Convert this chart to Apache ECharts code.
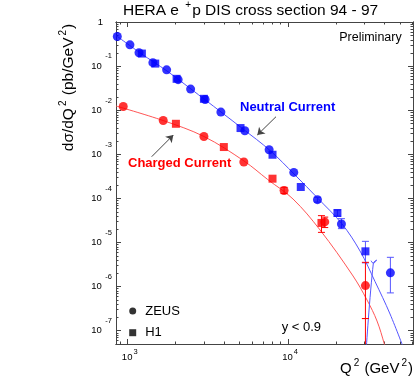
<!DOCTYPE html>
<html>
<head>
<meta charset="utf-8">
<script src="https://cdn.jsdelivr.net/npm/echarts@6/dist/echarts.min.js"></script>
<style>
  html, body { margin: 0; padding: 0; background: #fff; }
  #chart { width: 415px; height: 377px; }
</style>
</head>
<body>
<div id="chart"></div>
<script>
// Q2 in GeV^2, dsigma/dQ2 in pb/GeV^2
var ncZeusQ2 = [864, 1036, 1180, 1440, 1755, 2070, 2477, 3050, 3825, 5396, 7648, 10900, 15310, 21610, 43650]
var ncZeusXs = [0.477, 0.309, 0.205, 0.122, 0.0838, 0.050, 0.0306, 0.0178, 0.0092, 0.00347, 0.001285, 3.93e-4, 9.44e-5, 2.65e-5, 2.06e-6]
var ncH1Q2 = [1230, 1490, 2025, 2998, 5072, 8030, 12050, 20400, 30500]
var ncH1Xs = [0.196, 0.116, 0.0523, 0.0184, 0.00399, 0.000989, 1.83e-4, 4.71e-5, 6.35e-6]

var ccZeusQ2 = [941, 1671, 2998, 5319, 9480, 17000, 30500]
var ccZeusXs = [0.01233, 0.00593, 0.00257, 6.76e-4, 1.53e-4, 2.95e-5, 1.06e-6]
var ccH1Q2 = [2005, 3991, 8030, 16220]
var ccH1Xs = [0.00499, 0.00148, 2.83e-4, 2.8e-5]

// error bars (only the visible ones)
var ncErrQ2 = [15310, 20400, 21610, 30500, 43650]
var ncErrHi = [1.07e-4, 5.5e-5, 3.5e-5, 1.07e-5, 4.64e-6]
var ncErrLo = [8.3e-5, 4.0e-5, 2.08e-5, 3.47e-6, 7.23e-7]
var ccErrQ2 = [9480, 16220, 17000, 30500, 30500]
var ccErrHi = [1.8e-4, 4.1e-5, 3.8e-5, 3.57e-6, 1.89e-7]
var ccErrLo = [1.3e-4, 1.71e-5, 2.2e-5, 1e-9, 1.89e-7]

// theory curves
var ncCurveQ2 = [848, 1214, 1764, 2490, 3832, 5256, 7747, 11100, 15440, 21800, 28230, 35010, 43430, 53870]
var ncCurveXs = [0.5036, 0.1965, 0.0787, 0.0307, 0.00924, 0.0038, 0.001235, 3.43e-4, 1.004e-4, 2.65e-5, 6.45e-6, 1.31e-6, 2.40e-7, 3.3e-8]
var ccCurveQ2 = [848, 1666, 3002, 5333, 7492, 10780, 15890, 25530, 31210, 36030, 40010, 41020]
var ccCurveXs = [0.01264, 0.005923, 0.002566, 7.13e-4, 2.71e-4, 9.78e-5, 1.94e-5, 1.75e-6, 4.98e-7, 1.66e-7, 5.0e-8, 3.3e-8]

// the odd blue band at high Q2
var ncBandQ2 = [33060, 34170, 35860, 34170, 30760]
var ncBandXs = [3.89e-6, 3.39e-6, 4.03e-6, 3.39e-6, 3.3e-8]

// tick labels
var xMajor = [1e3, 1e4]
var yMajor = [1, 1e-1, 1e-2, 1e-3, 1e-4, 1e-5, 1e-6, 1e-7]
var xMin = 848, xMax = 60400, yMin = 5e-8, yMax = 1.02

var FONT = 'Liberation Sans, Arial, Helvetica, sans-serif'
var BLUE = '#0000ff', RED = '#ff0000'
var BLUE_LINE = '#5555ff', RED_LINE = '#ff5555'
var AXIS = '#444'

function zip(a, b) {
  return a.map(function (v, i) { return [v, b[i]] })
}

function minorTicks(lo, hi) {
  var out = []
  for (var e = Math.floor(Math.log10(lo)); e <= Math.ceil(Math.log10(hi)); e++) {
    for (var k = 2; k <= 9; k++) {
      var v = k * Math.pow(10, e)
      if (v > lo && v < hi) out.push(v)
    }
  }
  return out
}

function expLabel(v) {
  var e = Math.round(Math.log10(v))
  if (e === 0) return '{one|1}'
  return '{b|10}{s|' + e + '}'
}

function logAxis(pos, min, max, ticks, len, label) {
  return {
    type: 'log',
    logBase: 10,
    position: pos,
    min: min,
    max: max,
    axisLine: { show: true, onZero: false, lineStyle: { color: AXIS, width: 1 } },
    axisTick: { show: true, inside: true, length: len, customValues: ticks, lineStyle: { color: AXIS, width: 1 } },
    axisLabel: label || { show: false },
    splitLine: { show: false },
    minorTick: { show: false },
    minorSplitLine: { show: false }
  }
}

var xLabel = {
  show: true,
  customValues: xMajor,
  margin: 8,
  formatter: expLabel,
  rich: {
    b: { fontFamily: FONT, fontSize: 9.5, lineHeight: 10, color: '#000', padding: [7, 0, 7, 4.5] },
    s: { fontFamily: FONT, fontSize: 7.5, lineHeight: 8, color: '#000', padding: [3, 0, 13, 1] }
  }
}
var yLabel = {
  show: true,
  customValues: yMajor,
  margin: 4,
  formatter: expLabel,
  rich: {
    b: { fontFamily: FONT, fontSize: 9.5, lineHeight: 10, color: '#000', padding: [10, 0, 10, 0] },
    s: { fontFamily: FONT, fontSize: 7.5, lineHeight: 8, color: '#000', padding: [1, 0, 21, 3.5] },
    one: { fontFamily: FONT, fontSize: 9.5, lineHeight: 10, color: '#000', padding: [10, 9, 10, 0] }
  }
}

function errorBars(q2, lo, hi, color) {
  return {
    type: 'custom',
    name: 'err',
    clip: true,
    silent: true,
    z: 3,
    data: q2.map(function (q, i) { return [q, lo[i], hi[i]] }),
    encode: { x: 0, y: [1, 2] },
    renderItem: function (params, api) {
      var a = api.coord([api.value(0), api.value(1)])
      var b = api.coord([api.value(0), api.value(2)])
      var w = 3.5
      var st = { stroke: color, lineWidth: 1 }
      return {
        type: 'group',
        children: [
          { type: 'line', shape: { x1: a[0], y1: a[1], x2: b[0], y2: b[1] }, style: st },
          { type: 'line', shape: { x1: a[0] - w, y1: a[1], x2: a[0] + w, y2: a[1] }, style: st },
          { type: 'line', shape: { x1: b[0] - w, y1: b[1], x2: b[0] + w, y2: b[1] }, style: st }
        ]
      }
    }
  }
}

function curve(q2, xs, color, arrow) {
  var s = {
    type: 'line',
    name: 'curve',
    data: zip(q2, xs),
    smooth: 0.35,
    symbol: 'none',
    clip: true,
    silent: true,
    z: 2,
    lineStyle: { color: color, width: 1 }
  }
  if (arrow) {
    s.markLine = {
      silent: true,
      symbol: ['none', 'arrow'],
      symbolSize: 7,
      label: { show: false },
      lineStyle: { color: '#444', width: 1, type: 'solid' },
      data: [[{ coord: arrow[0] }, { coord: arrow[1] }]]
    }
  }
  return s
}

function points(name, q2, xs, symbol, size, color) {
  return {
    type: 'scatter',
    name: name,
    data: zip(q2, xs),
    symbol: symbol,
    symbolSize: size,
    z: 5,
    itemStyle: { color: color }
  }
}

var sup = function (big, small, raise) {
  return {
    a: { fontFamily: FONT, fontSize: big, lineHeight: big, padding: [6, 0, 0, 0], fill: '#000' },
    s: { fontFamily: FONT, fontSize: small, lineHeight: small, padding: [6 - raise + (big - small) / 2, 1, raise + (big - small) / 2, 2], fill: '#000' }
  }
}

var chart = echarts.init(document.getElementById('chart'), null, { renderer: 'canvas' })
chart.setOption({
  animation: false,
  backgroundColor: '#fff',
  textStyle: { fontFamily: FONT },
  grid: { left: 116, right: 2, top: 22, bottom: 33, containLabel: false, outerBoundsMode: 'none' },
  xAxis: [
    logAxis('bottom', xMin, xMax, xMajor, 5, xLabel),
    logAxis('bottom', xMin, xMax, minorTicks(xMin, xMax), 2.5),
    logAxis('top', xMin, xMax, xMajor, 5),
    logAxis('top', xMin, xMax, minorTicks(xMin, xMax), 2.5)
  ],
  yAxis: [
    logAxis('left', yMin, yMax, yMajor, 5, yLabel),
    logAxis('left', yMin, yMax, minorTicks(yMin, yMax), 2.5),
    logAxis('right', yMin, yMax, yMajor, 5),
    logAxis('right', yMin, yMax, minorTicks(yMin, yMax), 2.5)
  ],
  legend: {
    orient: 'vertical',
    left: 124.2,
    top: 299.5,
    itemWidth: 15,
    itemHeight: 7,
    itemGap: 8.7,
    selectedMode: false,
    textStyle: { fontFamily: FONT, fontSize: 13, color: '#000' },
    data: [
      { name: 'ZEUS', icon: 'circle', itemStyle: { color: '#000' } },
      { name: 'H1', icon: 'path://M0,0L1,0L1,1L0,1Z', itemStyle: { color: '#000' } }
    ]
  },
  series: [
    curve(ncCurveQ2, ncCurveXs, BLUE_LINE, [[8443, 0.00722], [6455, 0.002776]]),
    curve(ccCurveQ2, ccCurveXs, RED_LINE, [[1416, 8.93e-4], [1932, 0.002776]]),
    curve(ncBandQ2, ncBandXs, BLUE_LINE),
    errorBars(ncErrQ2, ncErrLo, ncErrHi, BLUE_LINE),
    errorBars(ccErrQ2, ccErrLo, ccErrHi, RED),
    points('ZEUS', ncZeusQ2, ncZeusXs, 'circle', 9, BLUE),
    points('H1', ncH1Q2, ncH1Xs, 'rect', 8, BLUE),
    points('ZEUS', ccZeusQ2, ccZeusXs, 'circle', 9, RED),
    points('H1', ccH1Q2, ccH1Xs, 'rect', 8, RED)
  ],
  graphic: [
    {
      type: 'text', x: 123, y: 7.5,
      style: { text: '{a|HERA e }{s|+}{a|p DIS cross section 94 - 97}', rich: sup(15.5, 10, 5), align: 'left', verticalAlign: 'middle' }
    },
    {
      type: 'text', x: 66, y: 87.5, rotation: Math.PI / 2,
      style: { text: '{a|dσ/dQ}{s|2}{a| (pb/GeV}{s|2}{a|)}', rich: sup(15.5, 10, 6), align: 'center', verticalAlign: 'middle' }
    },
    {
      type: 'text', x: 413, y: 366,
      style: { text: '{a|Q}{s|2}{a| (GeV}{s|2}{a|)}', rich: sup(15, 10, 6), align: 'right', verticalAlign: 'middle' }
    },
    {
      type: 'text', x: 401.7, y: 38,
      style: { text: 'Preliminary', font: '12.5px ' + FONT, fill: '#000', align: 'right', verticalAlign: 'middle' }
    },
    {
      type: 'text', x: 240, y: 107,
      style: { text: 'Neutral Current', font: 'bold 13px ' + FONT, fill: BLUE, align: 'left', verticalAlign: 'middle' }
    },
    {
      type: 'text', x: 128, y: 163.5,
      style: { text: 'Charged Current', font: 'bold 13px ' + FONT, fill: RED, align: 'left', verticalAlign: 'middle' }
    },
    {
      type: 'text', x: 281.7, y: 327.7,
      style: { text: 'y < 0.9', font: '13px ' + FONT, fill: '#000', align: 'left', verticalAlign: 'middle' }
    }
  ]
})
</script>
</body>
</html>
